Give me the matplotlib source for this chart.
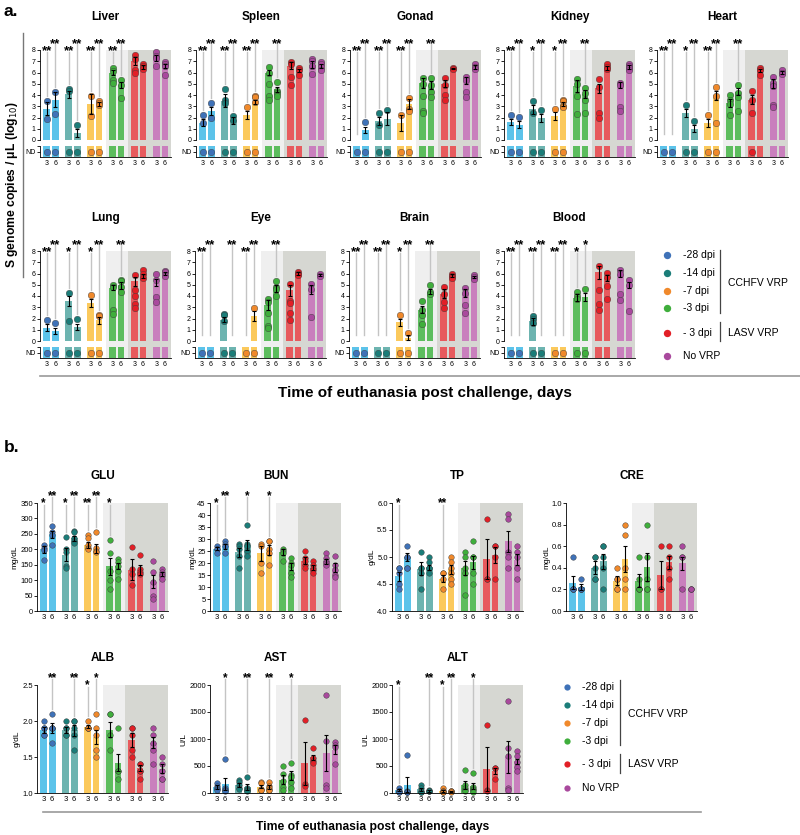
import numpy as np
import matplotlib
matplotlib.use('Agg')
import matplotlib.pyplot as plt
from matplotlib.lines import Line2D

plt.rcParams['font.family'] = ['Liberation Sans', 'DejaVu Sans']

nan = np.nan  # ND = not detected

GROUPS = ['-28 dpi', '-14 dpi', '-7 dpi', '-3 dpi', '- 3 dpi', 'No VRP']
DAYS = ['3', '6']
BAR_COLORS = ['#5cc3ea', '#6db4b0', '#fbc95c', '#5dbd5e', '#e75a5d', '#c97fbd']
DOT_COLORS = ['#3f72b8', '#1b7d79', '#f0892b', '#3fae3c', '#e21f26', '#a9499d']

# ---- panel a: S genome copies / uL (log10), columns = group x day ----
LIVER_MEAN = [2.8, 3.6, 4.05, 0.65, 3.2, 3.2, 6.0, 4.9, 7.0, 6.5, 7.3, 6.6]
LIVER_SEM = [0.6, 0.7, 0.3, 0.35, 0.85, 0.2, 0.25, 0.25, 0.35, 0.2, 0.3, 0.2]
LIVER_PTS = [[3.5, 1.9, nan], [4.3, 2.3, nan], [4.5, 4.4, nan], [1.3, nan], [3.9, 2.1, nan],
             [3.5, 3.3, 3.1, nan], [6.4, 6.1, 5.3, 5.1], [5.3, 4.9, 3.7], [7.6, 7.2, 6.2, 6.0],
             [6.8, 6.6, 6.3], [7.8, 7.5, 7.3, 6.6], [6.9, 6.8, 6.6, 5.8]]
LIVER_SIG = ['**', '**', '**', '**', '**', '**', '**', '**']

SPLEEN_MEAN = [1.55, 2.6, 3.5, 1.75, 2.2, 3.4, 6.0, 4.5, 6.6, 6.2, 6.7, 6.6]
SPLEEN_SEM = [0.3, 0.35, 0.55, 0.3, 0.35, 0.2, 0.25, 0.25, 0.3, 0.15, 0.3, 0.2]
SPLEEN_PTS = [[2.25, 1.5, nan], [3.3, 2.0, nan], [4.5, 3.6, 3.3, nan], [2.1, 1.8, nan], [2.95, nan],
              [3.9, 3.8, 3.4, nan], [6.5, 6.0, 5.0, 3.9, 3.6], [5.2, 4.4, 4.2, 3.9],
              [6.9, 6.8, 5.6, 4.9], [6.4, 6.2, 5.8], [7.2, 7.0, 6.6, 5.9], [6.9, 6.8, 6.5, 6.2]]
SPLEEN_SIG = ['**', '**', '**', '**', '**', '**', '', '**']

GONAD_MEAN = [0, 0.9, 1.7, 1.9, 1.5, 3.2, 5.1, 4.9, 5.0, 6.35, 5.3, 6.5]
GONAD_SEM = [0, 0.3, 0.35, 0.6, 0.7, 0.45, 0.45, 0.35, 0.3, 0.05, 0.3, 0.15]
GONAD_PTS = [[nan], [1.6, nan], [2.4, 1.35, nan], [2.65, nan], [2.2, nan], [3.7, 2.8, 2.6, nan],
             [5.5, 5.0, 3.9, 2.6, 2.4], [5.5, 4.9, 4.3, 3.8], [5.5, 4.9, 4.0, 3.6], [6.4, 6.3],
             [5.6, 5.3, 4.3, 3.8], [6.8, 6.5, 6.3]]
GONAD_SIG = ['**', '**', '**', '**', '**', '**', '', '**']

KIDNEY_MEAN = [1.6, 1.35, 2.75, 1.95, 2.1, 3.2, 4.8, 4.1, 4.6, 6.4, 4.9, 6.5]
KIDNEY_SEM = [0.3, 0.3, 0.4, 0.35, 0.35, 0.2, 0.5, 0.35, 0.4, 0.15, 0.3, 0.15]
KIDNEY_PTS = [[2.25, nan], [2.05, nan], [3.45, 2.4, nan], [2.65, nan], [2.8, nan],
              [3.6, 3.5, 3.0, 2.9, nan], [5.4, 5.0, 3.9, 2.3], [4.6, 4.2, 3.6, 2.4],
              [5.4, 4.7, 2.4, 2.0], [6.8, 6.5, 6.3], [5.1, 4.9, 2.9, 2.6], [6.8, 6.6, 6.4, 6.2]]
KIDNEY_SIG = ['**', '**', '*', '**', '*', '**', '', '**']

HEART_MEAN = [0, 0, 2.4, 1.0, 1.5, 4.0, 3.3, 4.3, 3.6, 6.2, 5.0, 6.0]
HEART_SEM = [0, 0, 0.35, 0.3, 0.35, 0.4, 0.35, 0.3, 0.4, 0.15, 0.4, 0.1]
HEART_PTS = [[nan], [nan], [3.1, nan], [1.65, nan], [2.2, nan], [4.7, 3.9, 1.5, nan],
             [4.0, 3.6, 3.2, 2.2], [4.85, 4.2, 3.8, 2.6], [4.4, 3.6, 2.4, nan], [6.4, 6.2, 5.8],
             [5.6, 5.1, 4.8, 3.1, 2.9], [6.2, 6.0, 5.9]]
HEART_SIG = ['**', '**', '*', '**', '**', '**', '', '**']

LUNG_MEAN = [1.2, 0.9, 3.55, 1.25, 3.4, 1.85, 4.75, 4.95, 5.3, 5.8, 5.2, 6.0]
LUNG_SEM = [0.3, 0.3, 0.45, 0.3, 0.35, 0.3, 0.2, 0.3, 0.4, 0.2, 0.3, 0.1]
LUNG_PTS = [[1.85, nan], [1.6, nan], [4.3, 1.8, nan], [1.95, nan], [4.1, nan], [2.3, 2.2, nan],
            [5.0, 4.8, 2.8, 2.4], [5.4, 5.3, 4.8, 4.4], [5.85, 4.5, 4.0, 3.3, 2.95],
            [6.3, 6.0, 5.6], [5.95, 5.4, 3.9, 3.45], [6.2, 6.1, 5.8]]
LUNG_SIG = ['**', '**', '*', '**', '*', '**', '', '**']

EYE_MEAN = [0, 0, 1.9, 0, 0, 2.25, 3.2, 4.7, 4.5, 6.0, 4.6, 5.85]
EYE_SEM = [0, 0, 0.25, 0, 0, 0.45, 0.45, 0.3, 0.5, 0.1, 0.4, 0.1]
EYE_PTS = [[nan], [nan], [2.4, 2.3, 1.75, nan], [nan], [nan], [2.95, nan],
           [3.75, 3.5, 2.5, 1.3, 1.2], [5.35, 4.8, 4.6, 4.0], [5.1, 3.6, 3.4, 2.5, 1.85],
           [6.15, 6.0, 5.85], [5.05, 4.65, 2.1], [5.95, 5.8]]
EYE_SIG = ['**', '**', '', '**', '**', '**', '', '**']

BRAIN_MEAN = [0, 0, 0, 0, 1.65, 0.3, 2.8, 4.4, 4.2, 5.8, 4.3, 5.7]
BRAIN_SEM = [0, 0, 0, 0, 0.35, 0.25, 0.35, 0.2, 0.4, 0.12, 0.35, 0.12]
BRAIN_PTS = [[nan], [nan], [nan], [nan], [2.35, nan], [0.7, nan], [3.6, 2.75, 2.3, 1.5],
             [5.0, 4.4, 4.2], [4.8, 4.2, 3.5, 2.9], [6.0, 5.8, 5.6], [4.7, 4.3, 3.2, 2.5],
             [5.9, 5.7, 5.55]]
BRAIN_SIG = ['**', '**', '**', '**', '*', '**', '', '**']

BLOOD_MEAN = [0, 0, 1.75, 0, 0, 0, 3.85, 3.9, 6.1, 5.6, 6.0, 5.0]
BLOOD_SEM = [0, 0, 0.3, 0, 0, 0, 0.3, 0.35, 0.6, 0.3, 0.3, 0.25]
BLOOD_PTS = [[nan], [nan], [2.25, 1.95, 1.6, nan], [nan], [nan], [nan], [4.4, 4.0, 3.7, nan],
             [4.65, nan], [6.7, 4.55, 3.25, 2.75], [6.05, 5.65, 4.9, 3.7],
             [6.35, 5.95, 4.15, 3.65], [5.4, 5.0, 2.7]]
BLOOD_SIG = ['**', '**', '**', '**', '**', '**', '*', '*']

# ---- panel b: blood chemistry ----
GLU_MEAN = [200, 248, 183, 235, 215, 202, 145, 147, 134, 133, 95, 120]
GLU_SEM = [12, 12, 20, 8, 10, 15, 28, 10, 35, 15, 22, 8]
GLU_PTS = [[215, 205, 198, 165], [275, 255, 245, 215], [240, 200, 190, 145, 140],
           [260, 255, 235, 228, 220], [245, 235, 215, 205, 200], [255, 205, 195, 190],
           [230, 188, 130, 100, 70], [168, 160, 145, 130, 105], [207, 135, 120, 85],
           [183, 135, 128, 120], [162, 128, 95, 50, 40], [135, 128, 120, 112, 105]]
GLU_SIG = ['*', '**', '*', '**', '**', '**', '*', '']

BUN_MEAN = [26, 27, 24.5, 27.5, 24, 25.5, 24.5, 18.6, 21, 18.1, 20.7, 18.1]
BUN_SEM = [0.7, 1.0, 1.8, 2.2, 3.0, 2.0, 1.2, 1.5, 1.5, 1.1, 1.0, 2.0]
BUN_PTS = [[27, 26, 26, 24], [29, 28, 27, 24], [28, 27, 26, 23, 18], [36, 28, 27, 25, 23],
           [28, 27, 20, 16], [29, 29, 26, 24, 19], [26, 25, 24, 21], [22, 20, 19, 16, 14],
           [25, 22, 21, 19, 18], [21, 19, 18, 17, 16], [24, 22, 21, 20, 19], [23, 19, 17, 15, 14]]
BUN_SIG = ['*', '**', '', '*', '', '*', '', '']

TP_MEAN = [4.64, 5.0, 4.78, 4.81, 4.6, 4.77, 4.8, 4.9, 4.97, 5.03, 5.29, 4.95]
TP_SEM = [0.08, 0.08, 0.12, 0.05, 0.07, 0.08, 0.13, 0.12, 0.37, 0.15, 0.2, 0.1]
TP_PTS = [[4.8, 4.8, 4.7, 4.5, 4.4], [5.2, 5.0, 5.0, 4.8, 4.8], [5.1, 4.8, 4.8, 4.7, 4.4],
          [5.0, 4.9, 4.8, 4.8, 4.7], [4.7, 4.7, 4.6, 4.4], [5.0, 4.9, 4.8, 4.7, 4.6, 4.5],
          [5.1, 5.0, 4.8, 4.7, 4.3], [5.3, 5.0, 5.0, 4.7, 4.5], [5.7, 4.6, 4.6],
          [5.2, 5.2, 5.0, 4.6], [5.8, 5.7, 5.1, 5.0, 4.8], [5.2, 5.1, 5.0, 4.8, 4.6]]
TP_SIG = ['*', '', '', '', '**', '', '', '']

CRE_MEAN = [0.26, 0.22, 0.4, 0.46, 0.28, 0.48, 0.28, 0.41, 0.33, 0.45, 0.44, 0.2]
CRE_SEM = [0.06, 0.03, 0.06, 0.07, 0.04, 0.12, 0.06, 0.13, 0.13, 0.06, 0.06, 0]
CRE_PTS = [[0.5, 0.2, 0.2, 0.2, 0.2], [0.3, 0.2, 0.2, 0.2, 0.2], [0.5, 0.5, 0.4, 0.3, 0.3],
           [0.6, 0.6, 0.5, 0.4, 0.2], [0.4, 0.3, 0.3, 0.2, 0.2], [0.8, 0.7, 0.4, 0.3, 0.2],
           [0.5, 0.3, 0.2, 0.2, 0.2], [0.8, 0.5, 0.3, 0.2, 0.2], [0.6, 0.2, 0.2],
           [0.6, 0.5, 0.4, 0.3], [0.6, 0.5, 0.5, 0.2], [0.2, 0.2, 0.2]]
CRE_SIG = ['', '', '', '', '', '', '', '']

ALB_MEAN = [1.87, 1.9, 1.87, 1.87, 1.92, 1.78, 1.88, 1.42, 1.74, 1.35, 1.7, 1.34]
ALB_SEM = [0.04, 0.07, 0.04, 0.08, 0.02, 0.1, 0.1, 0.12, 0.1, 0.04, 0.08, 0.06]
ALB_PTS = [[2.0, 1.9, 1.9, 1.8, 1.8], [2.1, 1.9, 1.9, 1.9, 1.7], [2.0, 1.9, 1.9, 1.8, 1.8],
           [2.0, 2.0, 1.9, 1.8, 1.6], [2.0, 1.9, 1.9, 1.9, 1.9], [2.1, 1.9, 1.8, 1.6, 1.5],
           [2.1, 2.1, 1.8, 1.6], [1.9, 1.3, 1.3, 1.2], [1.9, 1.9, 1.8, 1.6, 1.5],
           [1.4, 1.4, 1.3, 1.3, 1.2], [1.9, 1.8, 1.7, 1.6, 1.4], [1.5, 1.4, 1.3, 1.2, 1.2]]
ALB_SIG = ['', '**', '', '**', '*', '*', '', '']

AST_MEAN = [110, 172, 155, 108, 115, 112, 250, 320, 553, 660, 740, 805]
AST_SEM = [30, 110, 35, 50, 30, 35, 75, 80, 400, 50, 340, 75]
AST_PTS = [[180, 130, 100, 70, 60], [630, 90, 60, 50, 40], [240, 200, 150, 90, 70],
           [290, 90, 60, 50, 40], [200, 190, 80, 60, 50], [210, 130, 100, 60, 50],
           [500, 350, 220, 120, 60], [560, 340, 300, 200, 100], [1360, 170, 130],
           [840, 650, 600, 560], [1820, 960, 140, 100], [950, 880, 850, 540]]
AST_SIG = ['', '*', '', '**', '', '**', '', '*']

ALT_MEAN = [50, 156, 70, 37, 42, 30, 153, 125, 450, 400, 672, 586]
ALT_SEM = [20, 140, 30, 10, 18, 5, 70, 60, 405, 55, 300, 50]
ALT_PTS = [[90, 40, 30, 20, 10], [700, 30, 20, 20, 10], [150, 100, 40, 20, 10], [50, 40, 30, 30],
           [90, 40, 30, 20, 20], [40, 30, 30, 20], [424, 150, 100, 60, 30],
           [370, 120, 80, 60, 20], [1260, 60, 30], [470, 470, 260],
           [1700, 830, 680, 90, 50], [780, 680, 580, 490, 400]]
ALT_SIG = ['*', '', '', '**', '*', '**', '', '*']

# ---- layout helpers ----
W, H = 800, 835
XPOS = np.array([g * 2.6 + d for g in range(6) for d in range(2)])
XMIN, XMAX = -0.8, XPOS[-1] + 0.72
LIGHT_L = (XPOS[5] + XPOS[6]) / 2
LIGHT_R = (XPOS[7] + XPOS[8]) / 2
LIGHT_GREY, DARK_GREY, SIG_GREY = '#efefef', '#d6d7d2', '#c4c4c4'
ND_LEVEL, ND_FLOOR = -1.0, -2.0
COLS = [GROUPS.index(g) for g in GROUPS for d in DAYS]

fig = plt.figure(figsize=(8, 8.35), dpi=100)


def fbox(x0, y0, w, h):
    return [x0 / W, 1 - (y0 + h) / H, w / W, h / H]


def ftext(x, y, s, **kw):
    fig.text(x / W, 1 - y / H, s, **kw)


def fline(xs, ys, **kw):
    fig.add_artist(Line2D([x / W for x in xs], [1 - y / H for y in ys],
                          transform=fig.transFigure, **kw))


def shade(ax, lo=0.0):
    ax.axvspan(LIGHT_L, LIGHT_R, ymin=lo, color=LIGHT_GREY, lw=0, zorder=0, clip_on=False)
    ax.axvspan(LIGHT_R, XMAX, ymin=lo, color=DARK_GREY, lw=0, zorder=0, clip_on=False)


def add_sig(ax, pts, sig, h_px, fs, empty_low):
    y0, y1 = ax.get_ylim()
    upp = (y1 - y0) / h_px
    for i, s in enumerate(sig):
        if not s:
            continue
        det = [v for v in pts[i] if not np.isnan(v)]
        low = max(det) + 5 * upp if det else empty_low
        tier = i % 2
        star_y = y1 + (3.5 if tier == 0 else 10.5) * upp
        top = y1 + (-1.5 if tier == 0 else 6.0) * upp
        ax.plot([XPOS[i], XPOS[i]], [low, top], color=SIG_GREY, lw=1.0,
                clip_on=False, zorder=1.5)
        ax.annotate(s, (XPOS[i], star_y), xytext=(0, -0.57 * fs), textcoords='offset points',
                    ha='center', va='baseline', fontsize=fs, fontweight='bold',
                    annotation_clip=False)


def draw_bars(ax, mean, sem, bottom):
    mean = np.asarray(mean, float)
    sem = np.asarray(sem, float)
    colors = [BAR_COLORS[c] for c in COLS]
    ax.bar(XPOS, mean - bottom, bottom=bottom, width=0.8, color=colors, zorder=1)
    m = sem > 0
    ax.errorbar(XPOS[m], mean[m], yerr=sem[m], fmt='none', ecolor='black',
                elinewidth=0.8, capsize=1.6, capthick=0.8, zorder=3)


def draw_points(ax, pts, ms, nd_ax=None):
    for i, vals in enumerate(pts):
        vals = np.asarray(vals, float)
        det = vals[~np.isnan(vals)]
        kw = dict(s=ms, color=DOT_COLORS[COLS[i]], edgecolors='#3a3a3a', linewidths=0.3,
                  zorder=2, clip_on=False)
        ax.scatter(np.full(len(det), XPOS[i]), det, **kw)
        n_nd = int(np.isnan(vals).sum())
        if nd_ax is not None and n_nd:
            nd_ax.scatter(np.full(n_nd, XPOS[i]), np.full(n_nd, ND_LEVEL), **kw)


def organ_panel(left, top, name, mean, sem, pts, sig):
    ax = fig.add_axes(fbox(left, top, 131, 90))
    nd = fig.add_axes(fbox(left, top + 96, 131, 11))
    for a in (ax, nd):
        a.set_xlim(XMIN, XMAX)
        a.set_facecolor('none')
        for sp in ('top', 'right'):
            a.spines[sp].set_visible(False)
        draw_bars(a, mean, sem if a is ax else np.zeros(12), ND_FLOOR)
    ax.set_ylim(0, 8)
    nd.set_ylim(-1.55, -0.45)
    shade(ax, lo=-6 / 90)
    shade(nd)
    draw_points(ax, pts, 22, nd)
    ax.spines['bottom'].set_visible(False)
    ax.set_xticks([])
    ax.set_yticks(range(0, 9))
    ax.tick_params(axis='y', labelsize=5, length=2, width=0.6, pad=1)
    ax.spines['left'].set_linewidth(0.6)
    nd.set_yticks([ND_LEVEL], ['ND'])
    nd.set_yticks([-0.45], minor=True)
    nd.tick_params(axis='y', which='both', labelsize=5, length=2, width=0.6, pad=1)
    nd.set_xticks(XPOS, [DAYS[i % 2] for i in range(12)])
    nd.tick_params(axis='x', labelsize=5, length=0, pad=2)
    for sp in ('left', 'bottom'):
        nd.spines[sp].set_linewidth(0.6)
    add_sig(ax, pts, sig, 90, 9.5, 0.5)
    ftext(left + 65.5, top - 33, name, ha='center', va='center', fontsize=8.5,
          fontweight='bold')


def chem_panel(left, top, name, unit, ylim, yticks, fmt, mean, sem, pts, sig):
    ax = fig.add_axes(fbox(left, top, 131, 108))
    ax.set_facecolor('none')
    ax.set_xlim(XMIN, XMAX)
    ax.set_ylim(*ylim)
    shade(ax)
    draw_bars(ax, mean, sem, ylim[0])
    draw_points(ax, pts, 16)
    for sp in ('top', 'right'):
        ax.spines[sp].set_visible(False)
    for sp in ('left', 'bottom'):
        ax.spines[sp].set_linewidth(0.6)
    ax.set_yticks(yticks, [fmt.format(t) for t in yticks])
    ax.tick_params(axis='y', labelsize=5.5, length=2, width=0.6, pad=1)
    ax.set_xticks(XPOS, [DAYS[i % 2] for i in range(12)])
    ax.tick_params(axis='x', labelsize=5.5, length=0, pad=2)
    ax.set_ylabel(unit, fontsize=6, labelpad=1)
    add_sig(ax, pts, sig, 108, 8.5, ylim[0])
    ftext(left + 65.5, top - 27, name, ha='center', va='center', fontsize=8.5,
          fontweight='bold')


def legend(x_dot, x_txt, ys, ms, bx, span1, span2, y1, y2):
    for i, g in enumerate(GROUPS):
        fig.add_artist(Line2D([x_dot / W], [1 - ys[i] / H], marker='o', ms=ms, lw=0,
                              mfc=DOT_COLORS[i], mec='none', transform=fig.transFigure))
        ftext(x_txt, ys[i], g, ha='left', va='center', fontsize=7.5)
    fline([bx, bx], span1, color='#444444', lw=0.9)
    fline([bx, bx], span2, color='#444444', lw=0.9)
    ftext(bx + 8, y1, 'CCHFV VRP', ha='left', va='center', fontsize=7.5)
    ftext(bx + 8, y2, 'LASV VRP', ha='left', va='center', fontsize=7.5)


# ---- panel a ----
ftext(4, 12, 'a.', fontsize=12.5, fontweight='bold', va='center')
organ_panel(40, 50, 'Liver', LIVER_MEAN, LIVER_SEM, LIVER_PTS, LIVER_SIG)
organ_panel(196, 50, 'Spleen', SPLEEN_MEAN, SPLEEN_SEM, SPLEEN_PTS, SPLEEN_SIG)
organ_panel(350, 50, 'Gonad', GONAD_MEAN, GONAD_SEM, GONAD_PTS, GONAD_SIG)
organ_panel(504, 50, 'Kidney', KIDNEY_MEAN, KIDNEY_SEM, KIDNEY_PTS, KIDNEY_SIG)
organ_panel(657, 50, 'Heart', HEART_MEAN, HEART_SEM, HEART_PTS, HEART_SIG)
organ_panel(40, 251, 'Lung', LUNG_MEAN, LUNG_SEM, LUNG_PTS, LUNG_SIG)
organ_panel(195, 251, 'Eye', EYE_MEAN, EYE_SEM, EYE_PTS, EYE_SIG)
organ_panel(349, 251, 'Brain', BRAIN_MEAN, BRAIN_SEM, BRAIN_PTS, BRAIN_SIG)
organ_panel(504, 251, 'Blood', BLOOD_MEAN, BLOOD_SEM, BLOOD_PTS, BLOOD_SIG)

ftext(12, 185, 'S genome copies / μL (log$_{10}$)', rotation=90, ha='center', va='center',
      fontsize=8.7, fontweight='bold')
fline([22.5, 22.5], [33, 277], color='#777777', lw=1.0)
fline([40, 800], [376, 376], color='#9a9a9a', lw=1.2)
ftext(425, 393, 'Time of euthanasia post challenge, days', ha='center', va='center',
      fontsize=11, fontweight='bold')
legend(667, 683, [255, 273, 291, 308, 333, 356], 5.3, 720, [250, 313], [322, 341], 283, 333)

# ---- panel b ----
ftext(4, 448, 'b.', fontsize=12.5, fontweight='bold', va='center')
chem_panel(37, 503, 'GLU', 'mg/dL', (0, 350), list(range(0, 351, 50)), '{:d}',
           GLU_MEAN, GLU_SEM, GLU_PTS, GLU_SIG)
chem_panel(210, 503, 'BUN', 'mg/dL', (0, 45), list(range(0, 46, 5)), '{:d}',
           BUN_MEAN, BUN_SEM, BUN_PTS, BUN_SIG)
chem_panel(392, 503, 'TP', 'g/dL', (4.0, 6.0), [4.0, 4.5, 5.0, 5.5, 6.0], '{:.1f}',
           TP_MEAN, TP_SEM, TP_PTS, TP_SIG)
chem_panel(566, 503, 'CRE', 'mg/dL', (0, 1.0), [0.0, 0.2, 0.4, 0.6, 0.8, 1.0], '{:.1f}',
           CRE_MEAN, CRE_SEM, CRE_PTS, CRE_SIG)
chem_panel(37, 685, 'ALB', 'g/dL', (1.0, 2.5), [1.0, 1.5, 2.0, 2.5], '{:.1f}',
           ALB_MEAN, ALB_SEM, ALB_PTS, ALB_SIG)
chem_panel(210, 685, 'AST', 'U/L', (0, 2000), [0, 500, 1000, 1500, 2000], '{:d}',
           AST_MEAN, AST_SEM, AST_PTS, AST_SIG)
chem_panel(392, 685, 'ALT', 'U/L', (0, 2000), [0, 500, 1000, 1500, 2000], '{:d}',
           ALT_MEAN, ALT_SEM, ALT_PTS, ALT_SIG)

fline([43, 701], [812, 812], color='#9a9a9a', lw=1.2)
ftext(373, 827, 'Time of euthanasia post challenge, days', ha='center', va='center',
      fontsize=8.7, fontweight='bold')
legend(567, 582, [687, 705, 723, 741, 764, 788], 4.5, 620, [680, 745], [754, 773], 714, 764)

fig.savefig('out.png', dpi=100)
